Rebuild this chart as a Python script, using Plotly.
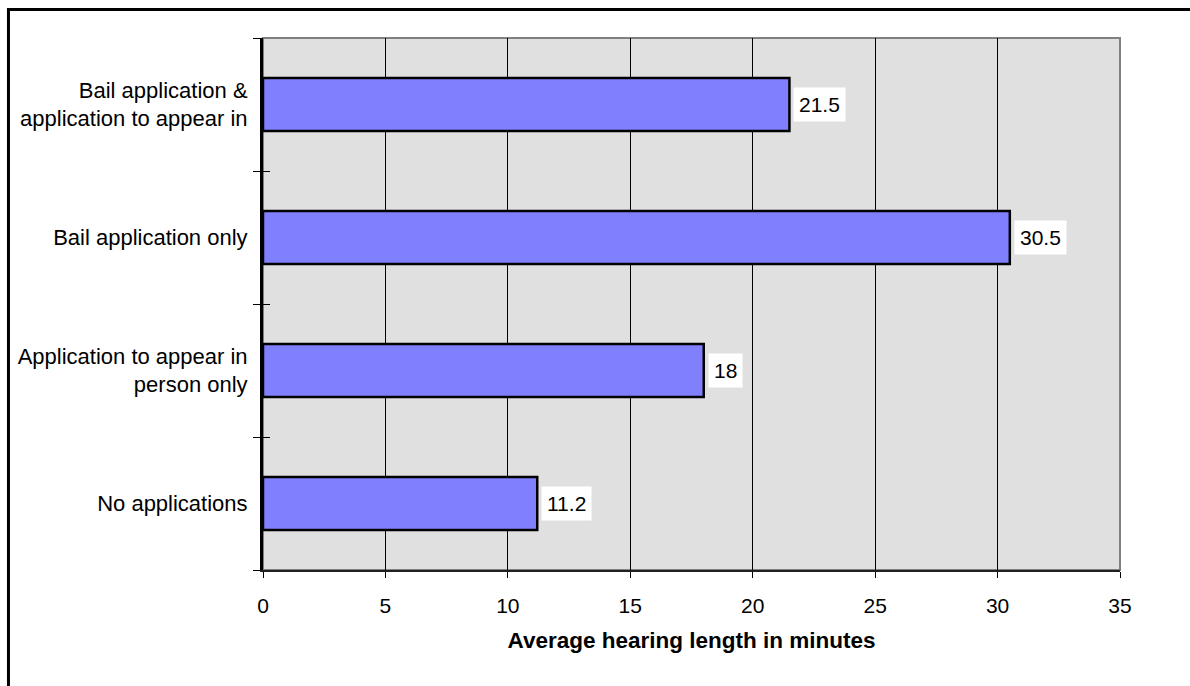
import plotly.graph_objects as go

# Hearing types (top to bottom) and average hearing length in minutes
categories = [
    "Bail application &<br>application to appear in",
    "Bail application only",
    "Application to appear in<br>person only",
    "No applications",
]
minutes = [21.5, 30.5, 18, 11.2]
x_ticks = [0, 5, 10, 15, 20, 25, 30, 35]

font = "Arial, Liberation Sans, sans-serif"

fig = go.Figure()
fig.add_trace(
    go.Bar(
        y=categories,
        x=minutes,
        orientation="h",
        marker=dict(color="#8080ff", line=dict(color="#000000", width=2.5)),
        width=0.4,
        hoverinfo="skip",
    )
)
# Same bars on an overlaid axis, invisible, to carry the inner half of the cross ticks
fig.add_trace(
    go.Bar(
        y=categories, x=minutes, orientation="h", yaxis="y2",
        marker=dict(color="rgba(0,0,0,0)", line=dict(width=0)), width=0.4,
        hoverinfo="skip", showlegend=False,
    )
)

# Value labels in white boxes just past each bar end
for cat, val in zip(categories, minutes):
    fig.add_annotation(
        x=val, y=cat, text=str(val), showarrow=False,
        xanchor="left", xshift=4,
        bgcolor="#ffffff", borderpad=5,
        font=dict(family=font, size=21, color="#000000"),
    )

# Gray frame round the plot area (top and right)
fig.add_shape(type="rect", xref="paper", yref="paper", x0=0, x1=1, y0=0, y1=1,
              line=dict(color="#808080", width=2), layer="below")
# Outer black border of the chart
fig.add_shape(type="rect", xref="paper", yref="paper",
              x0=-0.297, x1=1.2, y0=-0.4, y1=1.0535,
              line=dict(color="#000000", width=3))

fig.update_layout(
    width=1190, height=686,
    margin=dict(l=263, r=70, t=38, b=116),
    paper_bgcolor="#ffffff",
    plot_bgcolor="#e0e0e0",
    showlegend=False,
    barmode="overlay",
    font=dict(family=font, size=21, color="#000000"),
    xaxis=dict(
        range=[0, 35], tickvals=x_ticks, ticktext=[str(t) for t in x_ticks],
        showgrid=True, gridcolor="#000000", gridwidth=1,
        zeroline=False, showline=True, linecolor="#202020", linewidth=2,
        ticks="outside", ticklen=6, tickcolor="#000000", tickwidth=1,
        tickfont=dict(size=21), ticklabelstandoff=10,
        title=dict(text="<b>Average hearing length in minutes</b>",
                   font=dict(size=22.5), standoff=16),
        fixedrange=True,
    ),
    yaxis=dict(
        categoryorder="array", categoryarray=categories[::-1],
        showgrid=False, zeroline=False,
        showline=True, linecolor="#000000", linewidth=3,
        ticks="outside", tickson="boundaries", ticklen=7,
        tickcolor="#000000", tickwidth=1,
        tickfont=dict(size=22), ticklabelstandoff=8,
        fixedrange=True,
    ),
    yaxis2=dict(
        overlaying="y", matches="y", side="left",
        categoryorder="array", categoryarray=categories[::-1],
        showgrid=False, zeroline=False, showline=False,
        showticklabels=False,
        ticks="inside", tickson="boundaries", ticklen=7,
        tickcolor="#000000", tickwidth=1,
        fixedrange=True,
    ),
)

fig.write_html("out.html")
